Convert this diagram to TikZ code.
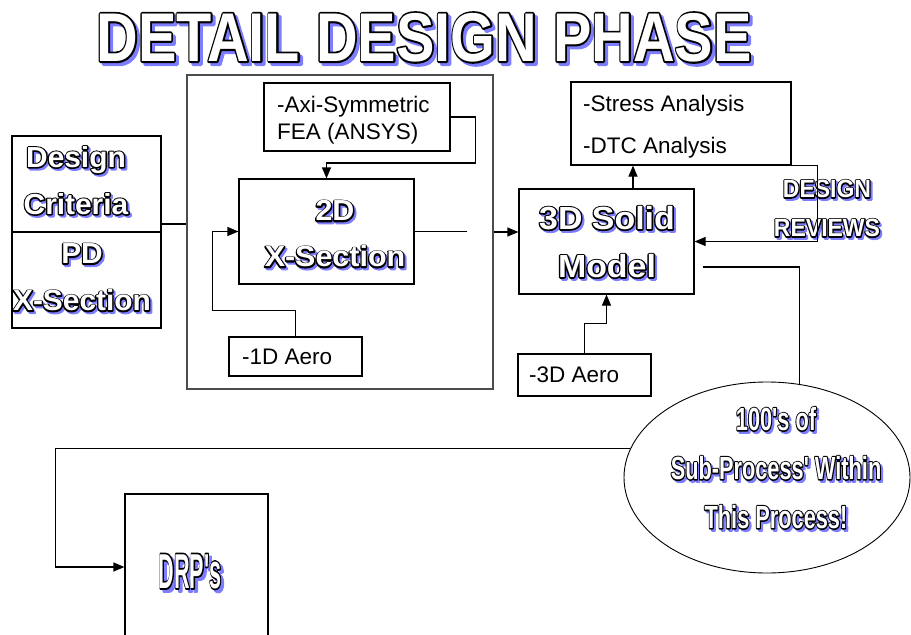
\documentclass[tikz,border=0pt]{standalone}
\usepackage{fontspec}
\usepackage{graphicx}
\setmainfont{Liberation Sans}
\newfontfamily\olfont{Liberation Sans}
\usetikzlibrary{arrows.meta,shapes.geometric,calc}
\definecolor{shblue}{RGB}{125,125,255}
\newdimen\shd \shd=2pt
\newsavebox\olbox
\newsavebox\olboxb
\newcommand\olt[3][1]{%
 \setbox\olbox\hbox{\scalebox{#1}[1]{\olfont\bfseries #3}}%
 \setbox\olboxb\hbox{\scalebox{#1}[1]{\olfont\bfseries\addfontfeatures{FakeBold=#2}#3}}%
 \makebox[\wd\olbox][l]{%
  \rlap{\hspace*{\shd}\raisebox{-\shd}{\textcolor{shblue}{\copy\olboxb}}}%
  \rlap{\textcolor{black}{\copy\olboxb}}%
  \textcolor{white}{\copy\olbox}}}
\tikzset{
  box/.style={draw, rectangle, line width=1.2pt, inner sep=0pt},
  ol/.style={inner sep=0pt, align=center, line join=round},
  plain/.style={inner sep=0pt, align=left, font=\fontsize{22.5}{27}\selectfont},
  conn/.style={line width=1.2pt},
  arr/.style={line width=1.2pt, -{Triangle[length=11pt,width=9pt]}},
}
\begin{document}
\begin{tikzpicture}[x=1pt,y=-1pt]
\path[use as bounding box] (0,0) rectangle (911,635);
\clip (0,0) rectangle (911,635);

% title
\node[ol, font={\fontsize{69}{69}\selectfont\shd=3pt}] (title) at (424,39) {\olt[0.835]{5.5}{DETAIL DESIGN PHASE}};

% boxes
\node[box, draw=black!70, minimum width=306pt, minimum height=314pt] (big) at (340,232) {};
\node[box, minimum width=149pt, minimum height=96pt] (lbtop) at (86.5,184) {};
\node[box, minimum width=149pt, minimum height=96pt] (lbbot) at (86.5,280) {};
\node[box, minimum width=186pt, minimum height=68pt] (axi) at (357,117) {};
\node[box, minimum width=175pt, minimum height=105pt] (m2d) at (326.5,231.5) {};
\node[box, minimum width=133pt, minimum height=39pt] (aero1) at (295.5,356.5) {};
\node[box, minimum width=175pt, minimum height=105pt] (m3d) at (606.5,241.5) {};
\node[box, minimum width=220pt, minimum height=83pt] (stress) at (681,123.5) {};
\node[box, minimum width=133pt, minimum height=42pt] (aero3) at (584.5,375) {};
\node[draw, ellipse, line width=0.9pt, inner sep=0pt, minimum width=286pt, minimum height=191pt] (ell) at (767,477.5) {};
\node[box, minimum width=143pt, minimum height=160pt] (drp) at (196.5,574) {};

% labels
\node[ol, font={\fontsize{29}{47}\selectfont\shd=2pt}] (ldc) at (76,181.5) {\olt[1.03]{9}{Design}\\\olt[1.03]{9}{Criteria}};
\node[ol, font={\fontsize{29}{47}\selectfont\shd=2pt}] (lpd) at (82,278.5) {\olt[1.03]{9}{PD}\\\olt[1.03]{9}{X-Section}};
\node[ol, font={\fontsize{29}{46}\selectfont\shd=2pt}] (l2d) at (335,235) {\olt[1.05]{9}{2D}\\\olt[1.05]{9}{X-Section}};
\node[ol, font={\fontsize{32}{48}\selectfont\shd=2pt}] (l3d) at (607,243) {\olt[1.06]{8.5}{3D Solid}\\\olt[1.06]{8.5}{Model}};
\node[ol, font={\fontsize{25}{39}\selectfont\shd=2pt}] (ldr) at (827,209.5) {\olt[0.92]{10}{DESIGN}\\\olt[0.92]{10}{REVIEWS}};
\node[ol, font={\fontsize{32}{49}\selectfont\shd=2.2pt}] (lell) at (776,469) {\olt[0.68]{8.5}{100's of}\\\olt[0.68]{8.5}{Sub-Process' Within}\\\olt[0.68]{8.5}{This Process!}};
\node[ol, font={\fontsize{49}{49}\selectfont\shd=3pt}] (ldrp) at (190,573) {\olt[0.44]{7}{DRP's}};

\node[plain, anchor=west] (taxi) at (277,120.5) {-Axi-Symmetric\\FEA (ANSYS)};
\node[plain, anchor=west] (t1d) at (242,357) {-1D Aero};
\node[plain, anchor=west, font=\fontsize{22.5}{42}\selectfont] (tstr) at (583,127) {-Stress Analysis\\-DTC Analysis};
\node[plain, anchor=west] (t3d) at (529,375) {-3D Aero};

% connectors
\coordinate (gap) at (467,232);
\draw[conn] ([yshift=-40pt]lbtop.east) -- ([yshift=-40pt]lbtop.east -| big.west);
\draw[conn] (m2d.east) -- (gap |- m2d.east);
\draw[arr] (big.east) -- (m3d.west |- big.east);
\draw[arr] (axi.east) -- ++(25,0) -- ++(0,46) -| (m2d.north);
\draw[arr] (aero1.north) -- ++(0,-26) -- ++(-83,0) |- (m2d.west);
\draw[arr] ([xshift=26.5pt]m3d.north) -- ([xshift=26.5pt]m3d.north |- stress.south);
\draw[arr] (stress.south east) -- ++(26,0) |- (m3d.east);
\draw[conn] ([xshift=8pt,yshift=-25.5pt]m3d.east) -| (ell.71);
\draw[arr] (aero3.north) -- ++(0,-30) -| (m3d.south);
\draw[arr] (ell.168.6) -- ++(-575,0) |- ([yshift=7pt]drp.west);
\end{tikzpicture}
\end{document}
